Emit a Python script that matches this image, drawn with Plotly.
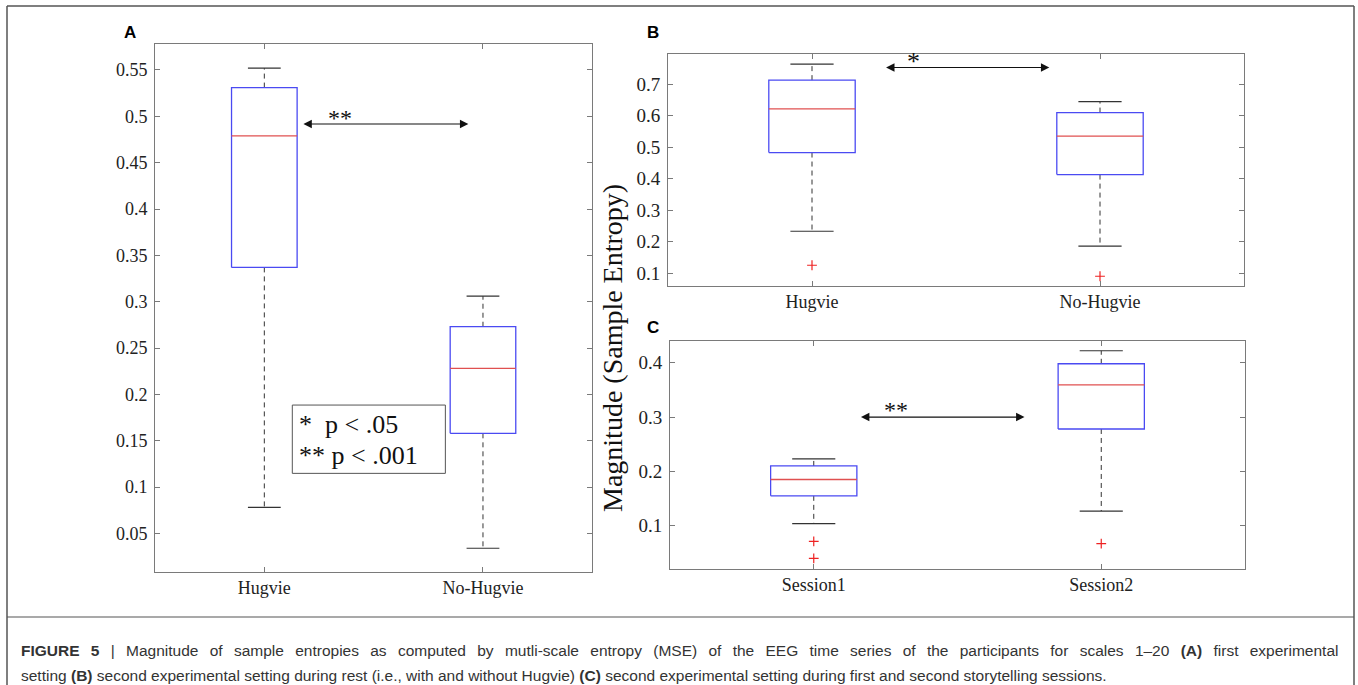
import plotly.graph_objects as go

W, H = 1358, 685

# ---------------- data ----------------
a_categories = ["Hugvie", "No-Hugvie"]
a_lower = [0.078, 0.034]
a_q1 = [0.337, 0.158]
a_median = [0.479, 0.228]
a_q3 = [0.531, 0.273]
a_upper = [0.552, 0.306]
a_outliers = [[], []]
a_ticks = [0.05, 0.1, 0.15, 0.2, 0.25, 0.3, 0.35, 0.4, 0.45, 0.5, 0.55]
a_ticktext = ["0.05", "0.1", "0.15", "0.2", "0.25", "0.3", "0.35", "0.4", "0.45", "0.5", "0.55"]

b_categories = ["Hugvie", "No-Hugvie"]
b_lower = [0.233, 0.186]
b_q1 = [0.483, 0.413]
b_median = [0.622, 0.535]
b_q3 = [0.713, 0.610]
b_upper = [0.764, 0.645]
b_outliers = [[0.125], [0.090]]
b_ticks = [0.1, 0.2, 0.3, 0.4, 0.5, 0.6, 0.7]
b_ticktext = ["0.1", "0.2", "0.3", "0.4", "0.5", "0.6", "0.7"]

c_categories = ["Session1", "Session2"]
c_lower = [0.104, 0.127]
c_q1 = [0.155, 0.278]
c_median = [0.185, 0.359]
c_q3 = [0.210, 0.398]
c_upper = [0.223, 0.422]
c_outliers = [[0.071, 0.040], [0.067]]
c_ticks = [0.1, 0.2, 0.3, 0.4]
c_ticktext = ["0.1", "0.2", "0.3", "0.4"]

# ---------------- styling ----------------
BLUE = "#4a4af2"
RED = "#e05050"
WHISK = "#333333"
AXC = "#7a7a7a"
SERIF = "Liberation Serif, Times New Roman, serif"
SANS = "Liberation Sans, Arial, sans-serif"
HALF = 0.15
CAP = 0.075

fig = go.Figure()


def add_boxes(xa, ya, lower, q1, med, q3, upper, outliers):
    bx, by, mx, my, wx, wy, cx, cy, ox, oy = [], [], [], [], [], [], [], [], [], []
    for i in range(len(q1)):
        p = i + 1
        bx += [p - HALF, p + HALF, p + HALF, p - HALF, p - HALF, None]
        by += [q1[i], q1[i], q3[i], q3[i], q1[i], None]
        mx += [p - HALF, p + HALF, None]
        my += [med[i], med[i], None]
        wx += [p, p, None, p, p, None]
        wy += [q3[i], upper[i], None, q1[i], lower[i], None]
        cx += [p - CAP, p + CAP, None, p - CAP, p + CAP, None]
        cy += [upper[i], upper[i], None, lower[i], lower[i], None]
        for o in outliers[i]:
            ox.append(p)
            oy.append(o)
    common = dict(xaxis=xa, yaxis=ya, showlegend=False, hoverinfo="skip")
    fig.add_trace(go.Scatter(x=wx, y=wy, mode="lines",
                             line=dict(color=WHISK, width=1, dash="5px,4px"), **common))
    fig.add_trace(go.Scatter(x=cx, y=cy, mode="lines",
                             line=dict(color=WHISK, width=1.2), **common))
    fig.add_trace(go.Scatter(x=bx, y=by, mode="lines",
                             line=dict(color=BLUE, width=1.3), **common))
    fig.add_trace(go.Scatter(x=mx, y=my, mode="lines",
                             line=dict(color=RED, width=1.3), **common))
    if ox:
        fig.add_trace(go.Scatter(x=ox, y=oy, mode="markers",
                                 marker=dict(symbol="cross-thin", size=7,
                                             line=dict(color="#ee2222", width=1.2)),
                                 **common))


add_boxes("x", "y", a_lower, a_q1, a_median, a_q3, a_upper, a_outliers)
add_boxes("x2", "y2", b_lower, b_q1, b_median, b_q3, b_upper, b_outliers)
add_boxes("x3", "y3", c_lower, c_q1, c_median, c_q3, c_upper, c_outliers)


def dom_x(a, b):
    return [a / W, b / W]


def dom_y(top, bottom):
    return [1 - bottom / H, 1 - top / H]


def xaxis(domain, anchor, cats, size):
    return dict(domain=domain, anchor=anchor, range=[0.5, 2.5], tickvals=[1, 2],
                ticktext=cats, ticks="inside", ticklen=5, tickcolor=AXC,
                showline=True, linecolor=AXC, linewidth=1, mirror="ticks",
                showgrid=False, zeroline=False, fixedrange=True,
                tickfont=dict(family=SERIF, size=size, color="#222"))


def yaxis(domain, anchor, rng, tv, tt, size):
    return dict(domain=domain, anchor=anchor, range=rng, tickvals=tv, ticktext=tt,
                ticks="inside", ticklen=5, tickcolor=AXC, showline=True,
                linecolor=AXC, linewidth=1, mirror="ticks", showgrid=False,
                zeroline=False, fixedrange=True, ticklabelstandoff=3,
                tickfont=dict(family=SERIF, size=size, color="#222"))


fig.update_layout(
    width=W, height=H, margin=dict(l=0, r=0, t=0, b=0),
    paper_bgcolor="white", plot_bgcolor="white", showlegend=False,
    xaxis=xaxis(dom_x(155, 592.3), "y", a_categories, 18),
    yaxis=yaxis(dom_y(44.3, 571.7), "x", [0.0087, 0.5777], a_ticks, a_ticktext, 18),
    xaxis2=xaxis(dom_x(668, 1244), "y2", b_categories, 18),
    yaxis2=yaxis(dom_y(53.7, 285.7), "x2", [0.06, 0.797], b_ticks, b_ticktext, 19),
    xaxis3=xaxis(dom_x(670, 1245), "y3", c_categories, 18),
    yaxis3=yaxis(dom_y(341, 568.7), "x3", [0.0209, 0.4399], c_ticks, c_ticktext, 19),
)

ann = []


def sig_arrow(xr, yr, x0, x1, y, label, lx, size, shift):
    ann.append(dict(xref=xr, yref=yr, axref=xr, ayref=yr, x=x1, y=y, ax=x0, ay=y,
                    text="", showarrow=True, arrowhead=2, startarrowhead=2,
                    arrowside="end+start", arrowsize=1.4, startarrowsize=1.4,
                    arrowwidth=1.2, arrowcolor="#111"))
    ann.append(dict(xref=xr, yref=yr, x=lx, y=y, text=label, showarrow=False,
                    yanchor="bottom", yshift=shift,
                    font=dict(family=SERIF, size=size, color="#111")))


sig_arrow("x", "y", 1.172, 1.933, 0.4917, "**", 1.345, 24, -9)
sig_arrow("x2", "y2", 1.252, 1.824, 0.7532, "*", 1.353, 26, -11)
sig_arrow("x3", "y3", 1.159, 1.733, 0.300, "**", 1.287, 24, -8)

# legend box in panel A
shapes = [dict(type="rect", xref="x", yref="y", x0=1.128, x1=1.828, y0=0.1148, y1=0.1885,
               line=dict(color="#555", width=1), fillcolor="white", layer="above")]
nb = "\u00a0"
ann.append(dict(xref="x", yref="y", x=1.15, y=0.1673, text="*" + nb + nb + "p < .05",
                showarrow=False, xanchor="left", yanchor="middle",
                font=dict(family=SERIF, size=26, color="#111")))
ann.append(dict(xref="x", yref="y", x=1.15, y=0.1342, text="**" + nb + "p < .001",
                showarrow=False, xanchor="left", yanchor="middle",
                font=dict(family=SERIF, size=26, color="#111")))

# panel letters
for letter, px, py in [("A", 130, 33), ("B", 653, 33), ("C", 653, 327)]:
    ann.append(dict(xref="paper", yref="paper", x=px / W, y=1 - py / H, text="<b>" + letter + "</b>",
                    showarrow=False, xanchor="center", yanchor="middle",
                    font=dict(family=SANS, size=17, color="#000")))

# shared y title
ann.append(dict(xref="paper", yref="paper", x=613 / W, y=1 - 348 / H,
                text="Magnitude (Sample Entropy)", textangle=-90, showarrow=False,
                xanchor="center", yanchor="middle",
                font=dict(family=SERIF, size=28, color="#111")))

# caption (first line is justified in the reference: widen the word gaps)
gap = " \u2005\u2009"
cap1 = gap.join(("<b>FIGURE 5</b> | Magnitude of sample entropies as computed by mutli-scale entropy (MSE) "
                 "of the EEG time series of the participants for scales 1–20 <b>(A)</b> first experimental").split(" "))
cap1 = cap1.replace("<b>FIGURE" + gap + "5</b>", "<b>FIGURE" + gap + "5</b>")
cap2 = ("setting <b>(B)</b> second experimental setting during rest (i.e., with and without Hugvie) "
        "<b>(C)</b> second experimental setting during first and second storytelling sessions.")
for txt, py in [(cap1, 650), (cap2, 675)]:
    ann.append(dict(xref="paper", yref="paper", x=19 / W, y=1 - py / H, text=txt,
                    showarrow=False, xanchor="left", yanchor="middle",
                    font=dict(family=SANS, size=15.5, color="#333")))

# outer frame
FR = "#555"
shapes += [
    dict(type="line", xref="paper", yref="paper", x0=7 / W, x1=1354 / W, y0=1 - 6 / H, y1=1 - 6 / H,
         line=dict(color=FR, width=1.5)),
    dict(type="line", xref="paper", yref="paper", x0=7 / W, x1=7 / W, y0=0, y1=1 - 6 / H,
         line=dict(color=FR, width=1.5)),
    dict(type="line", xref="paper", yref="paper", x0=1354 / W, x1=1354 / W, y0=0, y1=1 - 6 / H,
         line=dict(color=FR, width=1.5)),
    dict(type="line", xref="paper", yref="paper", x0=7 / W, x1=1354 / W, y0=1 - 617 / H, y1=1 - 617 / H,
         line=dict(color=FR, width=1.2)),
]

fig.update_layout(annotations=ann, shapes=shapes)
fig.write_html("out.html")
